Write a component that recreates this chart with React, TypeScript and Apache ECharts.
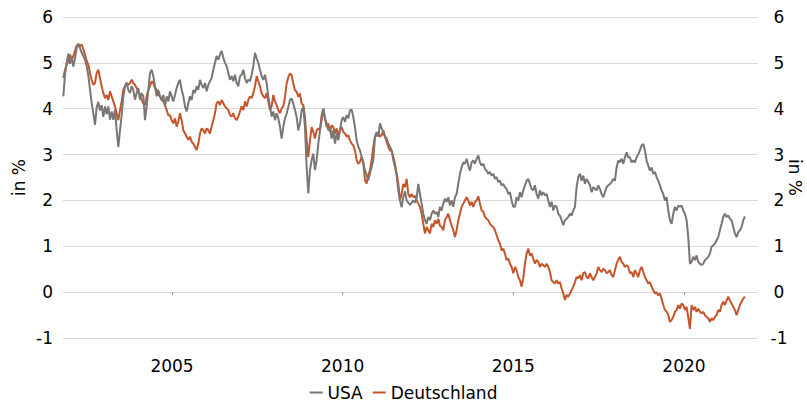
import React, { useEffect, useRef } from "react";
import * as echarts from "echarts";

// Observation grid: first observation (decimal year) and spacing (~18 days)
const firstYear = 2001.816;
const stepYears = 1 / 20.48;

// 10-year government bond yields, in %
const usa2001to2004 = [
  4.27, 4.75, 5.0, 5.2, 4.98, 5.12, 4.92, 5.1, 5.33, 5.42, 5.32, 5.22, 5.15, 5.07, 4.93, 4.72,
  4.42, 4.12, 3.9, 3.65, 4.03, 4.15, 3.96, 4.08, 3.82, 4.05, 3.88, 4.05, 3.76, 3.94, 3.76, 3.98,
  3.53, 3.17, 3.53, 3.86, 4.27, 4.49, 4.56, 4.41, 4.34, 4.49, 4.41, 4.2, 4.34, 4.45, 4.2, 4.34,
  4.27, 3.75, 4.05, 4.41, 4.78, 4.85, 4.71, 4.49, 4.27, 4.41, 4.27, 4.19, 4.3, 4.05, 4.27, 4.16,
];
const usa2005to2008 = [
  4.38, 4.27, 4.16, 4.3, 4.45, 4.56, 4.63, 4.41, 4.27, 4.05, 3.94, 4.12, 4.27, 4.19, 4.41, 4.34,
  4.49, 4.41, 4.63, 4.52, 4.45, 4.56, 4.38, 4.52, 4.6, 4.67, 4.85, 5.0, 5.15, 5.07, 5.18, 5.26,
  5.11, 5.0, 4.93, 4.78, 4.63, 4.71, 4.6, 4.74, 4.56, 4.49, 4.71, 4.74, 4.85, 4.67, 4.56, 4.63,
  4.6, 4.74, 4.93, 5.22, 5.1, 5.0, 4.85, 4.71, 4.63, 4.74, 4.56, 4.27, 4.05, 3.83, 3.94, 3.75,
  3.9, 3.79, 3.61, 3.35, 3.61,
];
const usa2008to2011 = [
  3.79, 3.89, 4.04, 4.19, 4.22, 4.11, 3.97, 3.82, 3.53, 3.68, 3.97, 4.04, 3.6, 2.73, 2.15, 2.66,
  2.88, 3.02, 2.66, 2.88, 3.24, 3.53, 3.75, 4.0, 3.79, 3.68, 3.53, 3.6, 3.35, 3.53, 3.24, 3.46,
  3.31, 3.53, 3.75, 3.82, 3.71, 3.86, 3.79, 3.97, 3.98, 3.82, 3.6, 3.31, 3.17, 3.09, 2.95, 2.8,
  2.66, 2.55, 2.44, 2.59, 2.73, 2.88, 3.39, 3.49, 3.39, 3.68, 3.57, 3.49, 3.39, 3.35, 3.24, 3.17,
  3.09, 2.88, 2.73, 2.55, 2.22,
];
const usa2011to2014 = [
  2.0, 1.85, 2.07, 2.2, 2.0, 1.95, 1.9, 1.95, 2.0, 1.95, 2.05, 2.36, 2.14, 1.93, 1.71, 1.57,
  1.49, 1.64, 1.57, 1.71, 1.78, 1.71, 1.75, 1.64, 1.86, 1.78, 1.93, 2.04, 1.97, 2.07, 1.89, 2.0,
  1.86, 2.07, 2.14, 2.36, 2.58, 2.72, 2.83, 2.8, 2.91, 2.76, 2.65, 2.83, 2.87, 2.8, 2.91, 2.98,
  2.83, 2.76, 2.8, 2.69, 2.65, 2.58, 2.62, 2.54, 2.58, 2.47, 2.51, 2.4, 2.43, 2.33, 2.36, 2.29,
  2.25, 2.14, 2.18, 2.0, 1.86,
];
const usa2015to2018 = [
  1.86, 2.07, 2.0, 2.18, 2.07, 2.22, 2.33, 2.43, 2.47, 2.36, 2.25, 2.22, 2.33, 2.14, 2.04, 2.22,
  2.11, 2.18, 2.11, 2.14, 2.0, 1.86, 1.97, 1.78, 1.89, 1.86, 1.71, 1.67, 1.57, 1.46, 1.57, 1.6,
  1.64, 1.71, 1.67, 1.78, 1.86, 2.29, 2.51, 2.58, 2.43, 2.54, 2.36, 2.47, 2.4, 2.33, 2.18, 2.29,
  2.25, 2.22, 2.33, 2.25, 2.14, 2.07, 2.18, 2.29, 2.33, 2.36, 2.4, 2.47, 2.43, 2.72, 2.87, 2.83,
  2.91, 2.8, 2.94, 3.05, 2.94,
];
const usa2018to2021 = [
  2.94, 2.83, 2.87, 2.83, 2.94, 3.01, 3.09, 3.2, 3.23, 3.09, 2.87, 2.76, 2.65, 2.72, 2.58, 2.62,
  2.51, 2.43, 2.33, 2.22, 2.14, 2.0, 2.07, 1.78, 1.57, 1.49, 1.71, 1.86, 1.78, 1.89, 1.86, 1.89,
  1.78, 1.71, 1.57, 1.2, 0.62, 0.66, 0.77, 0.7, 0.8, 0.66, 0.62, 0.59, 0.62, 0.7, 0.73, 0.77,
  0.84, 0.99, 1.02, 1.06, 1.13, 1.2, 1.35, 1.49, 1.64, 1.71, 1.64, 1.67, 1.6, 1.57, 1.42, 1.28,
  1.2, 1.31, 1.35, 1.42, 1.57, 1.65,
];

const de2001to2004 = [
  4.67, 4.85, 4.96, 5.04, 5.18, 5.07, 5.15, 5.26, 5.37, 5.4, 5.37, 5.4, 5.29, 5.18, 5.04, 4.96,
  4.78, 4.63, 4.52, 4.56, 4.78, 4.85, 4.67, 4.49, 4.34, 4.23, 4.3, 4.19, 4.38, 4.27, 4.16, 4.05,
  3.9, 3.75, 3.97, 4.16, 4.41, 4.49, 4.56, 4.52, 4.56, 4.63, 4.56, 4.52, 4.45, 4.38, 4.3, 4.19,
  4.12, 4.08, 4.27, 4.41, 4.49, 4.6, 4.56, 4.45, 4.41, 4.3, 4.27, 4.19, 4.16, 4.08, 3.97, 3.86,
];
const de2005to2008 = [
  3.86, 3.75, 3.68, 3.79, 3.61, 3.72, 3.9, 3.75, 3.53, 3.46, 3.39, 3.32, 3.39, 3.28, 3.24, 3.17,
  3.1, 3.24, 3.46, 3.57, 3.53, 3.46, 3.57, 3.53, 3.46, 3.61, 3.75, 3.9, 4.12, 4.16, 4.08, 4.19,
  4.12, 4.05, 4.01, 3.97, 3.86, 3.83, 3.9, 3.79, 3.75, 3.83, 3.94, 4.05, 3.97, 4.16, 4.05, 4.19,
  4.27, 4.23, 4.34, 4.49, 4.71, 4.6, 4.49, 4.34, 4.27, 4.23, 4.34, 4.16, 3.97, 4.05, 4.3, 4.16,
  4.08, 3.97, 3.9, 4.01, 4.05,
];
const de2008to2011 = [
  4.25, 4.55, 4.69, 4.77, 4.73, 4.55, 4.4, 4.37, 4.26, 4.33, 4.11, 4.08, 3.82, 3.31, 2.95, 3.31,
  3.6, 3.49, 3.35, 3.53, 3.57, 3.53, 3.86, 4.0, 3.79, 3.6, 3.68, 3.49, 3.64, 3.6, 3.46, 3.57,
  3.42, 3.53, 3.6, 3.49, 3.46, 3.39, 3.42, 3.31, 3.24, 3.2, 3.09, 2.88, 2.8, 2.84, 2.95, 2.84,
  2.44, 2.37, 2.55, 2.66, 2.88, 3.17, 3.39, 3.42, 3.49, 3.39, 3.42, 3.53, 3.39, 3.28, 3.17, 3.09,
  3.09, 2.95, 2.8, 2.59, 2.37,
];
const de2011to2014 = [
  2.0, 2.14, 2.36, 2.29, 2.47, 2.14, 2.07, 2.14, 2.07, 2.1, 2.0, 1.93, 1.86, 1.71, 1.49, 1.28,
  1.42, 1.35, 1.28, 1.49, 1.42, 1.57, 1.49, 1.6, 1.45, 1.42, 1.35, 1.57, 1.64, 1.71, 1.57, 1.45,
  1.35, 1.2, 1.35, 1.57, 1.71, 1.86, 1.93, 2.0, 2.07, 2.0, 1.89, 1.97, 1.86, 1.97, 2.0, 2.09,
  1.93, 1.78, 1.75, 1.64, 1.6, 1.57, 1.49, 1.45, 1.42, 1.35, 1.24, 1.13, 1.06, 0.91, 0.95, 0.84,
  0.7, 0.73, 0.62, 0.55, 0.41,
];
const de2015to2018 = [
  0.55, 0.48, 0.33, 0.26, 0.12, 0.3, 0.62, 0.84, 0.95, 0.8, 0.84, 0.73, 0.62, 0.7, 0.66, 0.55,
  0.62, 0.59, 0.55, 0.62, 0.55, 0.44, 0.26, 0.22, 0.19, 0.26, 0.19, 0.22, 0.08, -0.03, -0.17, -0.06,
  -0.1, -0.03, 0.04, 0.12, 0.22, 0.33, 0.3, 0.37, 0.26, 0.41, 0.44, 0.33, 0.3, 0.41, 0.33, 0.26,
  0.33, 0.41, 0.55, 0.48, 0.44, 0.51, 0.48, 0.41, 0.44, 0.48, 0.37, 0.33, 0.48, 0.62, 0.7, 0.77,
  0.66, 0.62, 0.55, 0.59, 0.55,
];
const de2018to2021 = [
  0.41, 0.44, 0.33, 0.48, 0.41, 0.33, 0.48, 0.55, 0.44, 0.33, 0.26, 0.19, 0.22, 0.12, 0.04, -0.03,
  0.0, -0.07, -0.03, -0.14, -0.28, -0.39, -0.42, -0.5, -0.65, -0.61, -0.54, -0.43, -0.39, -0.28, -0.36, -0.25,
  -0.28, -0.39, -0.32, -0.55, -0.8, -0.28, -0.39, -0.32, -0.43, -0.36, -0.43, -0.46, -0.43, -0.5, -0.54, -0.57,
  -0.65, -0.57, -0.61, -0.54, -0.5, -0.39, -0.43, -0.28, -0.21, -0.28, -0.18, -0.1, -0.18, -0.25, -0.32, -0.39,
  -0.5, -0.39, -0.28, -0.21, -0.14, -0.1,
];

const seriesNames = ["USA", "Deutschland"];
const xTickYears = [2005, 2010, 2015, 2020];
const xRange = [2001.806, 2022.17];
const yRange = [-1, 6];
const axisName = "in %";

const usaValues = [
  ...usa2001to2004, ...usa2005to2008, ...usa2008to2011,
  ...usa2011to2014, ...usa2015to2018, ...usa2018to2021,
];
const deValues = [
  ...de2001to2004, ...de2005to2008, ...de2008to2011,
  ...de2011to2014, ...de2015to2018, ...de2018to2021,
];

const toPairs = (values: number[]) =>
  values.map((v, i) => [firstYear + i * stepYears, v]);

const FONT = "DejaVu Sans";
const GRAY = "#7a7674";
const RED = "#c5552b";

export default function App() {
  const ref = useRef<HTMLDivElement>(null);
  useEffect(() => {
    document.body.style.margin = "0";
    if (!ref.current) return;
    const chart = echarts.init(ref.current, undefined, { renderer: "svg" });
    const labelStyle = { fontFamily: FONT, fontSize: 17, color: "#000" };
    chart.setOption({
      animation: false,
      textStyle: { fontFamily: FONT },
      grid: { left: 63, right: 49, top: 17, bottom: 63, outerBoundsMode: "none", containLabel: false },
      legend: {
        data: seriesNames,
        top: 384,
        left: "center",
        icon: "rect",
        itemWidth: 13,
        itemHeight: 2,
        itemGap: 10,
        padding: 0,
        textStyle: { ...labelStyle, lineHeight: 16 },
      },
      xAxis: {
        type: "value",
        min: xRange[0],
        max: xRange[1],
        offset: 11,
        axisLine: { show: false },
        axisTick: {
          show: true,
          length: 3,
          customValues: xTickYears,
          lineStyle: { color: "#999" },
        },
        axisLabel: {
          ...labelStyle,
          customValues: xTickYears,
          formatter: (v: number) => String(Math.round(v)),
          margin: 8,
        },
        splitLine: { show: false },
      },
      yAxis: [
        {
          type: "value",
          min: yRange[0],
          max: yRange[1],
          interval: 1,
          position: "left",
          name: axisName,
          nameLocation: "middle",
          nameRotate: 90,
          nameGap: 36,
          nameMoveOverlap: false,
          nameTextStyle: labelStyle,
          axisLine: { show: false },
          axisTick: { show: false },
          axisLabel: { ...labelStyle, margin: 10 },
          splitLine: { lineStyle: { color: "#d9d9d9", width: 1 } },
        },
        {
          type: "value",
          min: yRange[0],
          max: yRange[1],
          interval: 1,
          position: "right",
          name: axisName,
          nameLocation: "middle",
          nameRotate: -90,
          nameGap: 29,
          nameMoveOverlap: false,
          nameTextStyle: { ...labelStyle, lineHeight: 16 },
          axisLine: { show: false },
          axisTick: { show: false },
          axisLabel: { ...labelStyle, margin: 21, align: "center" },
          splitLine: { show: false },
        },
      ],
      series: [
        {
          name: seriesNames[1],
          type: "line",
          data: toPairs(deValues),
          showSymbol: false,
          symbol: "none",
          lineStyle: { color: RED, width: 2 },
          itemStyle: { color: RED },
        },
        {
          name: seriesNames[0],
          type: "line",
          data: toPairs(usaValues),
          showSymbol: false,
          symbol: "none",
          lineStyle: { color: GRAY, width: 2 },
          itemStyle: { color: GRAY },
        },
      ],
    });
    return () => chart.dispose();
  }, []);
  return <div ref={ref} style={{ width: 807, height: 401 }} />;
}
